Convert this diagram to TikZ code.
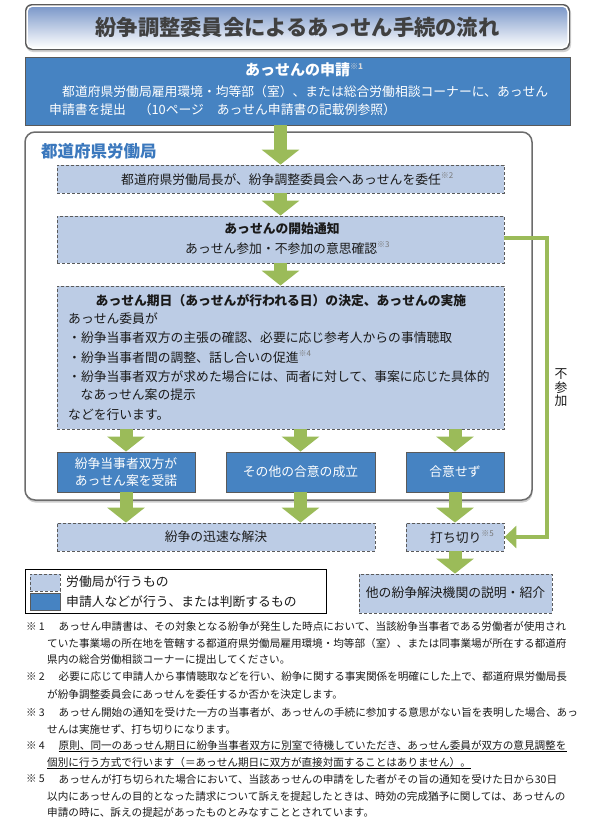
\documentclass[tikz,border=0pt]{standalone}
\usepackage{fontspec}
\setmainfont{Noto Sans CJK JP}
\usetikzlibrary{arrows.meta,shadows}
\definecolor{cblue}{RGB}{70,131,194}
\definecolor{clight}{RGB}{188,204,229}
\definecolor{cgreen}{RGB}{155,187,89}
\definecolor{clabel}{RGB}{59,120,189}
\definecolor{ctitle}{RGB}{64,64,64}
\definecolor{cedge}{RGB}{90,90,90}
\definecolor{ctop}{RGB}{122,151,201}
\definecolor{ctext}{RGB}{26,26,26}
\definecolor{cmark}{RGB}{120,120,120}
\newcommand\fnmk[2][cmark]{\raisebox{0.42em}{\fontsize{8}{8}\selectfont\color{#1}※#2}}
\tikzset{
  lightbox/.style={rectangle, inner sep=0pt, fill=clight, draw=cedge, dash pattern=on 3pt off 2pt, line width=0.8pt},
  bluebox/.style={rectangle, inner sep=0pt, fill=cblue, draw=cedge, line width=0.9pt},
  txt/.style={inner sep=0pt, text=ctext, font=\fontsize{12.8}{15}\selectfont},
  wtxt/.style={inner sep=0pt, text=white, font=\fontsize{12.8}{15}\selectfont},
  htxt/.style={inner sep=0pt, text=ctext, font=\fontsize{12.8}{15}\selectfont\bfseries},
  fntxt/.style={inner sep=0pt, anchor=west, text=ctext, font=\fontsize{10.6}{12}\selectfont},
  fat/.style={draw=cgreen, line width=13pt, -{Triangle[length=15pt,width=37pt]}},
  sideline/.style={draw=cgreen, line width=4pt, line join=miter, -{Triangle[length=12pt,width=22pt]}},
  titleframe/.style={rectangle, inner sep=0pt, fill=cedge, rounded corners=7pt, drop shadow={shadow xshift=1pt, shadow yshift=-2pt, opacity=0.35}},
  titlebox/.style={rectangle, inner sep=0pt, rounded corners=5.5pt, top color=ctop, bottom color=white, draw=white, line width=1.5pt},
  bigbox/.style={rectangle, inner sep=0pt, rounded corners=10pt, fill=white, draw=gray!85!black, line width=1.5pt, drop shadow={shadow xshift=0.5pt, shadow yshift=-2.5pt, opacity=0.4}}
}
\begin{document}
\begin{tikzpicture}[x=1pt,y=-1pt]
\useasboundingbox (0,0) rectangle (592,822);
\fill[white] (0,0) rectangle (592,822);

% title
\node[titleframe, minimum width=545pt, minimum height=46pt] (tframe) at (297.5,27) {};
\node[titlebox, minimum width=541pt, minimum height=42pt, text=ctitle, font=\fontsize{21.3}{24}\selectfont\bfseries] (title) at (297.5,27) {紛争調整委員会によるあっせん手続の流れ};

% application
\node[bluebox, line width=0.6pt, minimum width=545pt, minimum height=68pt] (apply) at (297.5,91) {};
\node[wtxt, anchor=west, font=\fontsize{15}{18}\selectfont\bfseries] (applyH) at (245,70) {あっせんの申請\fnmk[white!70!gray]{1}};
\node[wtxt, anchor=west] (applyL1) at (62,92) {都道府県労働局雇用環境・均等部（室）、または総合労働相談コーナーに、あっせん};
\node[wtxt, anchor=west] (applyL2) at (49,110) {申請書を提出　（10ページ　あっせん申請書の記載例参照）};

% big box
\node[bigbox, minimum width=507pt, minimum height=368pt] (kyoku) at (278.5,316) {};
\node[inner sep=0pt, anchor=west, text=clabel, font=\fontsize{16.5}{19}\selectfont\bfseries] (kyokuT) at (41,151) {都道府県労働局};

% step boxes
\node[lightbox, minimum width=447pt, minimum height=28pt] (d1) at (280.5,179) {};
\node[txt, anchor=west] (d1T) at (121,179) {都道府県労働局長が、紛争調整委員会へあっせんを委任\fnmk{2}};

\node[lightbox, minimum width=447pt, minimum height=47pt] (d2) at (280.5,239.5) {};
\node[htxt] (d2H) at (282,229) {あっせんの開始通知};
\node[txt, anchor=west] (d2T) at (185,248) {あっせん参加・不参加の意思確認\fnmk{3}};

\node[lightbox, minimum width=447pt, minimum height=143pt] (d3) at (280.5,357.5) {};
\node[htxt] (d3H) at (281,301) {あっせん期日（あっせんが行われる日）の決定、あっせんの実施};
\node[txt, anchor=west] (d3L1) at (68,319) {あっせん委員が};
\node[txt, anchor=west] (d3L2) at (68,338) {・紛争当事者双方の主張の確認、必要に応じ参考人からの事情聴取};
\node[txt, anchor=west] (d3L3) at (68,357) {・紛争当事者間の調整、話し合いの促進\fnmk{4}};
\node[txt, anchor=west] (d3L4) at (68,377) {・紛争当事者双方が求めた場合には、両者に対して、事案に応じた具体的};
\node[txt, anchor=west] (d3L5) at (80.5,395) {なあっせん案の提示};
\node[txt, anchor=west] (d3L6) at (68,415) {などを行います。};

% outcome boxes
\node[bluebox, minimum width=138pt, minimum height=40pt, wtxt, align=center, font=\fontsize{12.8}{16.5}\selectfont] (b1) at (126,472) {紛争当事者双方が\\あっせん案を受諾};
\node[bluebox, minimum width=149pt, minimum height=40pt, wtxt] (b2) at (300.5,472) {その他の合意の成立};
\node[bluebox, minimum width=98pt, minimum height=40pt, wtxt] (b3) at (455,472) {合意せず};

\node[lightbox, minimum width=318pt, minimum height=28pt] (r1) at (216,537) {};
\node[txt] (r1T) at (216,537) {紛争の迅速な解決};
\node[lightbox, minimum width=98pt, minimum height=28pt] (r2) at (455,537) {};
\node[txt, anchor=west] (r2T) at (430,537) {打ち切り\fnmk{5}};
\node[lightbox, minimum width=193pt, minimum height=39pt] (r3) at (455.5,593.5) {};
\node[txt] (r3T) at (455.5,593) {他の紛争解決機関の説明・紹介};

% fat arrows
\draw[fat] (apply.south -| d1.north) -- (d1.north);
\draw[fat] (d1.south) -- (d2.north);
\draw[fat] (d2.south) -- (d3.north);
\draw[fat] (d3.south -| b1.north) -- (b1.north);
\draw[fat] (d3.south -| b2.north) -- (b2.north);
\draw[fat] (d3.south -| b3.north) -- (b3.north);
\draw[fat] (b1.south) -- (b1.south |- r1.north);
\draw[fat] (b2.south) -- (b2.south |- r1.north);
\draw[fat] (b3.south) -- (r2.north);
\draw[fat] (r2.south) -- (r2.south |- r3.north);

% side line (non participation)
\coordinate (sideTop) at (547,238);
\coordinate (sideBot) at (547,537);
\draw[sideline] (d2.east |- sideTop) -- (sideTop) -- (sideBot) -- (r2.east);
\node[txt, align=center, font=\fontsize{12.8}{13.5}\selectfont] (fusanka) at (561,388) {不\\参\\加};

% legend
\node[draw=black, line width=0.9pt, minimum width=301pt, minimum height=44pt, inner sep=0pt] (legend) at (175.5,591) {};
\node[lightbox, minimum width=30pt, minimum height=17pt] (legL) at (45,582.5) {};
\node[bluebox, minimum width=30pt, minimum height=17pt] (legB) at (45,602) {};
\node[txt, anchor=west] (legLT) at (66,582) {労働局が行うもの};
\node[txt, anchor=west] (legBT) at (66,602) {申請人などが行う、または判断するもの};

% footnotes
\node[fntxt] (m1) at (26,626.7) {※\hspace{2pt}1};
\node[fntxt] (f1a) at (58.5,626.7) {あっせん申請書は、その対象となる紛争が発生した時点において、当該紛争当事者である労働者が使用され};
\node[fntxt] (f1b) at (47,643.3) {ていた事業場の所在地を管轄する都道府県労働局雇用環境・均等部（室）、または同事業場が所在する都道府};
\node[fntxt] (f1c) at (47,659) {県内の総合労働相談コーナーに提出してください。};
\node[fntxt] (m2) at (26,676.7) {※\hspace{2pt}2};
\node[fntxt] (f2a) at (58.5,676.7) {必要に応じて申請人から事情聴取などを行い、紛争に関する事実関係を明確にした上で、都道府県労働局長};
\node[fntxt] (f2b) at (47,694.3) {が紛争調整委員会にあっせんを委任するか否かを決定します。};
\node[fntxt] (m3) at (26,712.3) {※\hspace{2pt}3};
\node[fntxt] (f3a) at (58.5,712.3) {あっせん開始の通知を受けた一方の当事者が、あっせんの手続に参加する意思がない旨を表明した場合、あっ};
\node[fntxt] (f3b) at (47,729) {せんは実施せず、打ち切りになります。};
\node[fntxt] (m4) at (26,745.7) {※\hspace{2pt}4};
\node[fntxt] (f4a) at (58.5,745.7) {原則、同一のあっせん期日に紛争当事者双方に別室で待機していただき、あっせん委員が双方の意見調整を};
\node[fntxt] (f4b) at (47,762.3) {個別に行う方式で行います（＝あっせん期日に双方が直接対面することはありません）。};
\draw[line width=0.7pt] ([yshift=-6pt]f4a.west) -- ([yshift=-6pt]f4a.east);
\draw[line width=0.7pt] ([yshift=-6pt]f4b.west) -- ([yshift=-6pt]f4b.east);
\node[fntxt] (m5) at (26,779) {※\hspace{2pt}5};
\node[fntxt] (f5a) at (58.5,779) {あっせんが打ち切られた場合において、当該あっせんの申請をした者がその旨の通知を受けた日から30日};
\node[fntxt] (f5b) at (47,796.7) {以内にあっせんの目的となった請求について訴えを提起したときは、時効の完成猶予に関しては、あっせんの};
\node[fntxt] (f5c) at (47,812.3) {申請の時に、訴えの提起があったものとみなすこととされています。};
\end{tikzpicture}
\end{document}
